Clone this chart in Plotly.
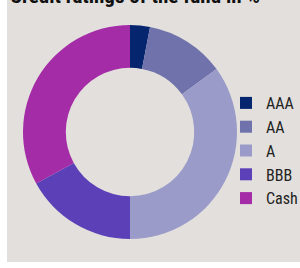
import plotly.graph_objects as go

labels = ["AAA", "AA", "A", "BBB", "Cash"]
values = [3, 12, 35, 17, 33]
colors = ["#05266f", "#6f72ab", "#9a9bc9", "#5b40b8", "#a42ca7"]
title_text = "Credit ratings of the fund in %"

W, H = 293, 262
font_fam = "Liberation Sans Narrow, Arial Narrow, Roboto Condensed, sans-serif"

fig = go.Figure(go.Pie(
    labels=labels, values=values, sort=False, direction="clockwise", rotation=0,
    hole=0.6, marker=dict(colors=colors, line=dict(width=0)),
    textinfo="none", hoverinfo="label+value",
    domain=dict(x=[16 / W, 230 / W], y=[23 / H, 237 / H]),
))

fig.update_layout(
    width=W, height=H, margin=dict(l=0, r=0, t=0, b=0, autoexpand=False),
    paper_bgcolor="#e2dfdc", plot_bgcolor="#e2dfdc",
    showlegend=True,
    legend=dict(x=219 / W, y=1 - 86 / H, xanchor="left", yanchor="top",
                font=dict(family=font_fam, size=16, color="#222222"),
                bgcolor="rgba(0,0,0,0)", itemclick=False),
    annotations=[dict(text="<b>" + title_text + "</b>", xref="paper", yref="paper",
                      x=1 / W, y=1, xanchor="left", yanchor="bottom", yshift=-10,
                      showarrow=False,
                      font=dict(family=font_fam, size=21, color="#111111"))],
)

fig.write_html("out.html",
               post_script="document.body.style.margin='0 0 0 7px';"
                           "document.body.style.overflow='hidden';")
